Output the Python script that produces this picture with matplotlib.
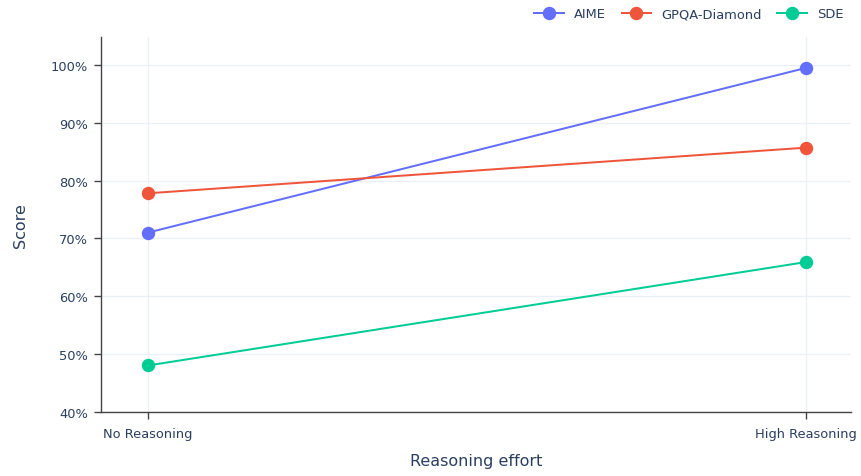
import matplotlib.pyplot as plt
from matplotlib.ticker import FuncFormatter

# <============DATA============>#

efforts = ['No Reasoning', 'High Reasoning']
aime = [71.0, 99.5]
gpqa = [77.8, 85.7]
sde = [48.0, 65.9]
series_names = ['AIME', 'GPQA-Diamond', 'SDE']
colors = ['#636efa', '#EF553B', '#00cc96']

# <============PLOT============>#

plt.rcParams['font.family'] = ['DejaVu Sans']
text_color = '#2a3f5f'
px = 0.72  # pt per pixel at dpi 100

fig = plt.figure(figsize=(8.61, 4.77), dpi=100)
ax = fig.add_axes([101 / 861, 1 - 412.7 / 477, 750 / 861, 374.7 / 477])

x = list(range(len(efforts)))
for name, vals, c in zip(series_names, [aime, gpqa, sde], colors):
    ax.plot(x, vals, color=c, lw=2 * px, marker='o', markersize=12 * px,
            label=name, zorder=3)

ax.set_xlim(-0.0714, 1.0684)
ax.set_ylim(40, 104.85)
ax.set_xticks(x)
ax.set_xticklabels(efforts)
ax.set_yticks(range(40, 101, 10))
ax.yaxis.set_major_formatter(FuncFormatter(lambda v, p: f'{v:.0f}%'))

ax.grid(True, color='#EBF0F8', lw=1)
ax.set_axisbelow(True)
for s in ['top', 'right']:
    ax.spines[s].set_visible(False)
for s in ['left', 'bottom']:
    ax.spines[s].set_color('#444444')
    ax.spines[s].set_linewidth(1)

ax.tick_params(axis='both', colors='#444444', length=5, width=1,
               labelsize=13 * px, labelcolor=text_color)
ax.tick_params(axis='y', pad=4.5)
ax.tick_params(axis='x', pad=6)
ax.set_xlabel('Reasoning effort', fontsize=16 * px, color=text_color)
ax.set_ylabel('Score', fontsize=16 * px, color=text_color)
ax.xaxis.set_label_coords(0.5, -0.11)
ax.yaxis.set_label_coords(-0.098, 0.5)

ax.legend(loc='upper right', bbox_to_anchor=(1.006, 1.11), ncol=3,
          frameon=False, fontsize=13 * px, labelcolor=text_color,
          handlelength=2.3, handletextpad=0.77, columnspacing=1.2)

fig.savefig('out.png', dpi=100)
